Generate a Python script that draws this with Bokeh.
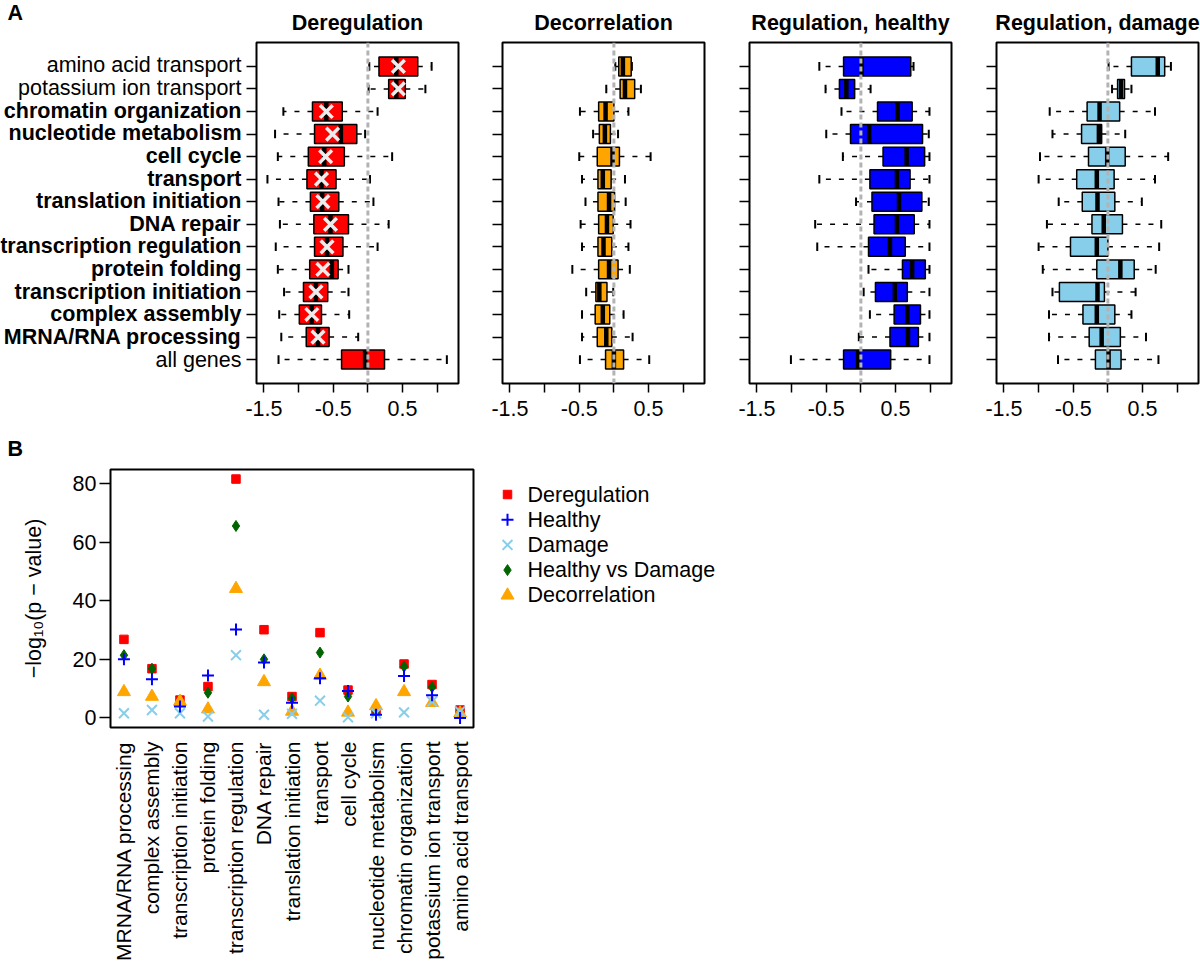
import math
from bokeh.plotting import figure
from bokeh.models import (Range1d, FixedTicker, Span, ColumnDataSource, CustomJSTickFormatter)
from bokeh.layouts import column, row
from bokeh.embed import file_html
from bokeh.resources import INLINE
from bokeh.core.properties import value

FONT = "Liberation Sans"
FS = "21.5px"

# ---------------- Panel A data (top to bottom) ----------------
categories = ["amino acid transport", "potassium ion transport", "chromatin organization",
              "nucleotide metabolism", "cell cycle", "transport", "translation initiation",
              "DNA repair", "transcription regulation", "protein folding",
              "transcription initiation", "complex assembly", "MRNA/RNA processing", "all genes"]
bold_flags = [False, False, True, True, True, True, True, True, True, True, True, True, True, False]

dereg_low = [0.02, 0.01, -1.22, -1.34, -1.30, -1.45, -1.29, -1.27, -1.33, -1.30, -1.21, -1.28, -1.25, -1.29]
dereg_q1 = [0.16, 0.30, -0.80, -0.77, -0.86, -0.88, -0.83, -0.78, -0.77, -0.84, -0.93, -0.99, -0.89, -0.38]
dereg_med = [0.41, 0.41, -0.60, -0.39, -0.63, -0.67, -0.66, -0.54, -0.59, -0.52, -0.75, -0.81, -0.72, -0.04]
dereg_q3 = [0.72, 0.54, -0.37, -0.16, -0.34, -0.46, -0.42, -0.28, -0.36, -0.43, -0.58, -0.67, -0.56, 0.24]
dereg_high = [0.92, 0.83, 0.14, -0.04, 0.35, 0.03, 0.08, 0.30, 0.14, -0.28, -0.28, -0.27, -0.14, 1.14]
dereg_mark = [0.44, 0.44, -0.60, -0.51, -0.61, -0.67, -0.65, -0.54, -0.59, -0.65, -0.75, -0.81, -0.72]

decor_low = [0.02, -0.11, -0.49, -0.30, -0.50, -0.46, -0.41, -0.48, -0.46, -0.60, -0.40, -0.46, -0.46, -0.49]
decor_q1 = [0.07, 0.09, -0.22, -0.21, -0.24, -0.23, -0.23, -0.22, -0.23, -0.22, -0.26, -0.27, -0.24, -0.12]
decor_med = [0.13, 0.16, -0.12, -0.13, -0.02, -0.16, -0.07, -0.10, -0.15, -0.07, -0.21, -0.16, -0.11, 0.00]
decor_q3 = [0.25, 0.30, 0.00, -0.05, 0.08, -0.04, 0.01, -0.01, -0.03, 0.06, -0.10, -0.06, -0.03, 0.14]
decor_high = [0.26, 0.39, 0.21, 0.06, 0.53, 0.16, 0.17, 0.24, 0.21, 0.23, -0.01, 0.14, 0.27, 0.51]

healthy_low = [-0.60, -0.51, -0.28, -0.50, -0.26, -0.60, -0.07, -0.66, -0.63, 0.11, 0.04, 0.13, -0.03, -1.01]
healthy_q1 = [-0.25, -0.31, 0.24, -0.15, 0.32, 0.13, 0.16, 0.19, 0.11, 0.60, 0.21, 0.48, 0.42, -0.25]
healthy_med = [0.01, -0.21, 0.53, 0.12, 0.66, 0.52, 0.55, 0.52, 0.42, 0.74, 0.49, 0.67, 0.68, -0.04]
healthy_q3 = [0.72, -0.09, 0.74, 0.89, 0.92, 0.71, 0.88, 0.77, 0.64, 0.93, 0.67, 0.86, 0.83, 0.43]
healthy_high = [0.76, 0.14, 0.99, 0.98, 0.99, 0.99, 0.98, 0.99, 0.99, 0.99, 0.99, 0.99, 0.99, 0.99]

damage_low = [0.01, 0.06, -0.84, -0.80, -0.98, -1.00, -0.71, -0.88, -1.00, -0.94, -0.80, -0.85, -0.85, -0.72]
damage_q1 = [0.34, 0.14, -0.30, -0.38, -0.28, -0.45, -0.37, -0.23, -0.54, -0.16, -0.70, -0.36, -0.27, -0.18]
damage_med = [0.72, 0.19, -0.12, -0.13, -0.01, -0.16, -0.15, -0.06, -0.16, 0.18, -0.15, -0.16, -0.09, 0.01]
damage_q3 = [0.82, 0.24, 0.17, -0.09, 0.25, 0.09, 0.10, 0.21, 0.00, 0.38, -0.05, 0.10, 0.18, 0.19]
damage_high = [0.91, 0.34, 0.68, 0.25, 0.87, 0.68, 0.49, 0.77, 0.74, 0.69, 0.40, 0.34, 0.55, 0.73]

panel_titles = ["Deregulation", "Decorrelation", "Regulation, healthy", "Regulation, damage"]
panel_colors = ["#ff0000", "#ffa500", "#0000ff", "#87ceeb"]
x_ticks = [-1.5, -0.5, 0.5]
x_minor = [-1.0, 0.0, 1.0]

# ---------------- Panel B data ----------------
b_categories = ["MRNA/RNA processing", "complex assembly", "transcription initiation",
                "protein folding", "transcription regulation", "DNA repair",
                "translation initiation", "transport", "cell cycle", "nucleotide metabolism",
                "chromatin organization", "potassium ion transport", "amino acid transport"]
p_dereg = [26.8, 16.8, 6.1, 10.7, 81.5, 30.1, 7.3, 29.1, 9.5, 2.5, 18.4, 11.4, 2.7]
p_healthy = [20.0, 13.2, 3.9, 14.5, 30.2, 18.9, 5.2, 13.5, 9.2, 1.1, 14.3, 7.7, 0.0]
p_damage = [1.6, 2.7, 1.6, 0.5, 21.4, 1.1, 1.4, 5.9, 0.2, 1.6, 1.9, 5.6, 2.2]
p_hvd = [21.4, 16.8, 5.6, 8.6, 65.5, 20.0, 6.7, 22.3, 7.3, 2.2, 17.5, 10.5, 2.2]
p_decor = [8.9, 7.3, 5.6, 3.0, 44.1, 12.3, 2.2, 14.5, 1.9, 4.1, 8.9, 5.2, 1.6]
b_yticks = [0, 20, 40, 60, 80]
legend_labels = ["Deregulation", "Healthy", "Damage", "Healthy vs Damage", "Decorrelation"]

# ---------------- layout constants ----------------
n = len(categories)
ys = [n - i for i in range(n)]
Y0, Y1 = -0.06, 15.06          # row axis range
X0, X1 = -1.608, 1.308         # value axis range
TOP_H = 425
TOP_BT, TOP_BB = 41, 42        # borders above / below the frames
FRAME_W = 202
LABEL_W = 244


def style_fig(p):
    p.xgrid.visible = False
    p.ygrid.visible = False
    p.outline_line_color = "black"
    p.outline_line_width = 2
    p.outline_line_alpha = 1
    p.background_fill_color = "white"
    p.border_fill_color = "white"


def blank_fig(width, height, xr, yr, **kw):
    p = figure(width=width, height=height, x_range=xr, y_range=yr,
               output_backend="svg", toolbar_location=None, min_border=0, **kw)
    p.axis.visible = False
    p.xgrid.visible = False
    p.ygrid.visible = False
    p.outline_line_color = None
    p.background_fill_color = "white"
    p.border_fill_color = "white"
    return p


def box_panel(idx, low, q1, med, q3, high, mark=None):
    lb = 12 if idx == 0 else 24
    rb = 2 if idx == 3 else (20 if idx == 0 else 21)
    p = figure(width=lb + FRAME_W + rb, height=TOP_H,
               x_range=Range1d(X0, X1), y_range=Range1d(Y0, Y1),
               output_backend="svg", toolbar_location=None,
               min_border_left=lb, min_border_right=rb,
               min_border_top=TOP_BT, min_border_bottom=TOP_BB,
               title=panel_titles[idx])
    style_fig(p)
    p.title.align = "center"
    p.title.text_font = FONT
    p.title.text_font_size = FS
    p.title.text_font_style = "bold"
    p.title.text_color = "black"
    p.title.standoff = 16

    src = ColumnDataSource(dict(y=ys, low=low, q1=q1, med=med, q3=q3, high=high,
                                y0=[v - 0.42 for v in ys], y1=[v + 0.42 for v in ys],
                                c0=[v - 0.19 for v in ys], c1=[v + 0.19 for v in ys]))
    p.segment(x0="q1", x1="low", y0="y", y1="y", line_color="black", line_width=1.5,
              line_dash="5 8", source=src)
    p.segment(x0="q3", x1="high", y0="y", y1="y", line_color="black", line_width=1.5,
              line_dash="5 8", source=src)
    p.segment(x0="low", x1="low", y0="c0", y1="c1", line_color="black", line_width=2, source=src)
    p.segment(x0="high", x1="high", y0="c0", y1="c1", line_color="black", line_width=2, source=src)
    p.hbar(y="y", left="q1", right="q3", height=0.84, fill_color=panel_colors[idx],
           line_color="black", line_width=1.5, source=src)
    p.segment(x0="med", x1="med", y0="y0", y1="y1", line_color="black", line_width=4.5,
              line_cap="butt", source=src)
    if mark is not None:
        p.scatter(x=mark, y=ys[:len(mark)], marker="x", size=18, line_color="#ececec",
                  line_width=3.5)
    p.add_layout(Span(location=0, dimension="height", line_color="#b3b3b3",
                      line_width=3, line_dash="5 3"))

    xa = p.xaxis[0]
    xa.ticker = FixedTicker(ticks=x_ticks, minor_ticks=x_minor)
    xa.formatter = CustomJSTickFormatter(code="return tick.toString();")
    xa.axis_line_color = None
    xa.major_tick_out = 9
    xa.major_tick_in = 0
    xa.minor_tick_out = 9
    xa.minor_tick_in = 0
    xa.major_tick_line_width = 1.5
    xa.minor_tick_line_width = 1.5
    xa.major_tick_line_color = "black"
    xa.minor_tick_line_color = "black"
    xa.major_label_standoff = 8
    xa.major_label_text_font = FONT
    xa.major_label_text_font_size = FS
    xa.major_label_text_color = "black"

    ya = p.yaxis[0]
    ya.ticker = FixedTicker(ticks=ys, minor_ticks=[])
    ya.formatter = CustomJSTickFormatter(code="return '';")
    ya.axis_line_color = None
    ya.major_tick_out = 10
    ya.major_tick_in = 0
    ya.major_tick_line_width = 1.5
    ya.major_tick_line_color = "black"
    ya.major_label_standoff = 0
    return p


# category label strip: full-height frame (nested in its own column), row scale
# extended so that rows line up with panel 1's frame
ppu = (TOP_H - TOP_BT - TOP_BB) / (Y1 - Y0)
lab = blank_fig(LABEL_W, TOP_H, Range1d(0, LABEL_W),
                Range1d(Y0 - TOP_BB / ppu, Y1 + TOP_BT / ppu))
lab_src = ColumnDataSource(dict(x=[LABEL_W - 3] * n, y=ys, text=categories,
                                style=["bold" if b else "normal" for b in bold_flags]))
lab.text(x="x", y="y", text="text", source=lab_src, text_align="right",
         text_baseline="middle", text_font=value(FONT), text_font_size=FS,
         text_font_style="style", text_color="black")
lab.text(x=[7], y=[Y1 + (TOP_BT - 12) / ppu], text=["A"], text_align="left",
         text_baseline="alphabetic", text_font=value(FONT), text_font_size=FS,
         text_font_style="bold", text_color="black")

p1 = box_panel(0, dereg_low, dereg_q1, dereg_med, dereg_q3, dereg_high, dereg_mark)
p2 = box_panel(1, decor_low, decor_q1, decor_med, decor_q3, decor_high)
p3 = box_panel(2, healthy_low, healthy_q1, healthy_med, healthy_q3, healthy_high)
p4 = box_panel(3, damage_low, damage_q1, damage_med, damage_q3, damage_high)

# ---------------- Panel B ----------------
B_H = 540
B_BT, B_BB = 44, 238
B_FH = B_H - B_BT - B_BB
B_LEFT, B_FW, B_RB = 110, 363, 8
xs = list(range(1, len(b_categories) + 1))
pb = figure(width=B_LEFT + B_FW + B_RB, height=B_H,
            x_range=Range1d(0.52, 13.48), y_range=Range1d(-3.26, 84.76),
            output_backend="svg", toolbar_location=None,
            min_border_left=B_LEFT, min_border_right=B_RB,
            min_border_top=B_BT, min_border_bottom=B_BB, title="B")
style_fig(pb)
pb.title.align = "left"
pb.title.offset = -103
pb.title.standoff = 18
pb.title.text_font = FONT
pb.title.text_font_size = FS
pb.title.text_font_style = "bold"
pb.title.text_color = "black"

marker_specs = [
    dict(marker="square", size=8.5, fill_color="#ff0000", line_color="#ff0000", line_width=1),
    dict(marker="cross", size=12, fill_color=None, line_color="#0000ff", line_width=2),
    dict(marker="x", size=14, fill_color=None, line_color="#87ceeb", line_width=2),
    dict(marker="diamond", size=11, fill_color="#006400", line_color="#006400", line_width=1),
    dict(marker="triangle", size=13, fill_color="#ffa500", line_color="#ffa500", line_width=1),
]
series = [p_dereg, p_healthy, p_damage, p_hvd, p_decor]
# drawing order: squares, diamonds, triangles, crosses (x), plus
for k in [0, 3, 4, 2, 1]:
    pb.scatter(xs, series[k], **marker_specs[k])

xa = pb.xaxis[0]
xa.ticker = FixedTicker(ticks=xs, minor_ticks=[])
xa.major_label_overrides = {i: c for i, c in zip(xs, b_categories)}
xa.major_label_orientation = math.pi / 2
xa.axis_line_color = None
xa.major_tick_out = 0
xa.major_tick_in = 0
xa.major_tick_line_color = None
xa.major_label_standoff = 14
xa.major_label_text_font = FONT
xa.major_label_text_font_size = "21px"
xa.major_label_text_color = "black"

ya = pb.yaxis[0]
ya.ticker = FixedTicker(ticks=b_yticks, minor_ticks=[])
ya.axis_line_color = None
ya.major_tick_out = 11
ya.major_tick_in = 0
ya.major_tick_line_width = 1.5
ya.major_tick_line_color = "black"
ya.major_label_standoff = 3
ya.major_label_text_font = FONT
ya.major_label_text_font_size = FS
ya.major_label_text_color = "black"
ya.axis_label = "\u2212log\u2081\u2080(p \u2212 value)"
ya.axis_label_text_font = FONT
ya.axis_label_text_font_size = FS
ya.axis_label_text_font_style = "normal"
ya.axis_label_text_color = "black"
ya.axis_label_standoff = 24

# legend strip to the right of panel B; its frame is aligned with panel B's frame,
# coordinates are page pixels (y downwards)
LEG_X0 = B_LEFT + B_FW + B_RB
LEG_W = 1200 - LEG_X0
F_TOP = TOP_H + B_BT
leg = blank_fig(LEG_W, B_H, Range1d(LEG_X0, LEG_X0 + LEG_W), Range1d(F_TOP + B_FH, F_TOP))
leg_first, leg_step = F_TOP + 25, 25.2
leg_y = [leg_first + i * leg_step for i in range(len(legend_labels))]
for k, spec in enumerate(marker_specs):
    leg.scatter([LEG_X0 + 26], [leg_y[k]], **spec)
leg.text(x=[LEG_X0 + 46] * len(legend_labels), y=leg_y, text=legend_labels,
         text_align="left", text_baseline="middle", text_font=value(FONT),
         text_font_size=FS, text_color="black")

layout = column(row(column(lab), p1, p2, p3, p4), row(pb, leg))
open("out.html", "w").write(file_html(layout, INLINE))
